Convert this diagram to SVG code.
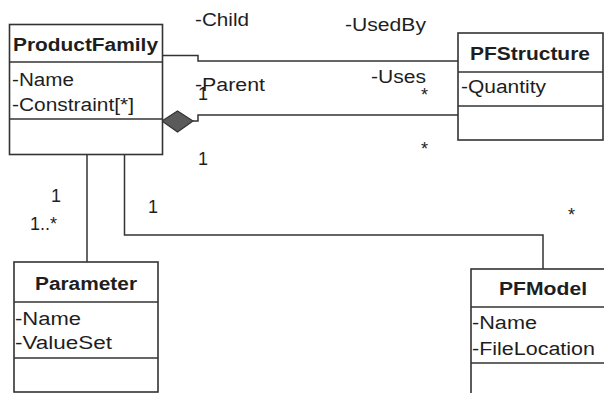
<svg xmlns="http://www.w3.org/2000/svg" width="604" height="393" viewBox="0 0 604 393">
<style>
.box{fill:#fff;stroke:#333;stroke-width:1.6}
.sep{stroke:#333;stroke-width:1.6;fill:none}
.con{stroke:#333;stroke-width:1.5;fill:none}
text{font-family:"Liberation Sans",Arial,sans-serif;font-size:18px;fill:#1e1e1e}
.title{font-weight:bold;text-anchor:middle}
</style>
<rect width="604" height="393" fill="#fff"/>
<g id="connectors">
<polyline class="con" points="162,55.5 198,55.5 198,61 458,61"/>
<polyline class="con" points="193,121 198,121 198,115 458,115"/>
<polygon points="162,121 177.5,111 193,121 177.5,132" fill="#5a5a5a" stroke="#333" stroke-width="1.2"/>
<line class="con" x1="87" y1="154" x2="87" y2="262"/>
<polyline class="con" points="124.5,154 124.5,235 543,235 543,269"/>
<text x="195" y="25.5" textLength="54" lengthAdjust="spacingAndGlyphs">-Child</text>
<text x="345" y="30.5" textLength="81" lengthAdjust="spacingAndGlyphs">-UsedBy</text>
<text x="195" y="90.5" textLength="70" lengthAdjust="spacingAndGlyphs">-Parent</text>
<text x="371" y="83" textLength="55" lengthAdjust="spacingAndGlyphs">-Uses</text>
<text x="198" y="100">1</text>
<text x="198" y="165">1</text>
<text x="421" y="101">*</text>
<text x="421" y="155">*</text>
<text x="51" y="202">1</text>
<text x="30" y="230">1..*</text>
<text x="148" y="213">1</text>
<text x="568" y="221">*</text>
</g>
<g id="ProductFamily">
<rect class="box" x="9.5" y="24.5" width="153" height="130"/>
<line class="sep" x1="9.5" y1="62" x2="162.5" y2="62"/>
<line class="sep" x1="9.5" y1="119" x2="162.5" y2="119"/>
<text class="title" x="85.5" y="50.5" textLength="145" lengthAdjust="spacingAndGlyphs">ProductFamily</text>
<text x="12" y="86" textLength="62" lengthAdjust="spacingAndGlyphs">-Name</text>
<text x="12" y="111" textLength="122" lengthAdjust="spacingAndGlyphs">-Constraint[*]</text>
</g>
<g id="PFStructure">
<rect class="box" x="458" y="33" width="145" height="107"/>
<line class="sep" x1="458" y1="72" x2="603" y2="72"/>
<line class="sep" x1="458" y1="106" x2="603" y2="106"/>
<text class="title" x="530" y="60" textLength="120" lengthAdjust="spacingAndGlyphs">PFStructure</text>
<text x="461" y="93" textLength="85" lengthAdjust="spacingAndGlyphs">-Quantity</text>
</g>
<g id="Parameter">
<rect class="box" x="14" y="262" width="144" height="130"/>
<line class="sep" x1="14" y1="302" x2="158" y2="302"/>
<line class="sep" x1="14" y1="358" x2="158" y2="358"/>
<text class="title" x="86" y="290" textLength="102" lengthAdjust="spacingAndGlyphs">Parameter</text>
<text x="15" y="325" textLength="66" lengthAdjust="spacingAndGlyphs">-Name</text>
<text x="15" y="349" textLength="97" lengthAdjust="spacingAndGlyphs">-ValueSet</text>
</g>
<g id="PFModel">
<rect class="box" x="471" y="269" width="145" height="140"/>
<line class="sep" x1="471" y1="307" x2="616" y2="307"/>
<line class="sep" x1="471" y1="363" x2="616" y2="363"/>
<text class="title" x="543" y="295" textLength="88" lengthAdjust="spacingAndGlyphs">PFModel</text>
<text x="472" y="329" textLength="65" lengthAdjust="spacingAndGlyphs">-Name</text>
<text x="472" y="355" textLength="123" lengthAdjust="spacingAndGlyphs">-FileLocation</text>
</g>
</svg>
